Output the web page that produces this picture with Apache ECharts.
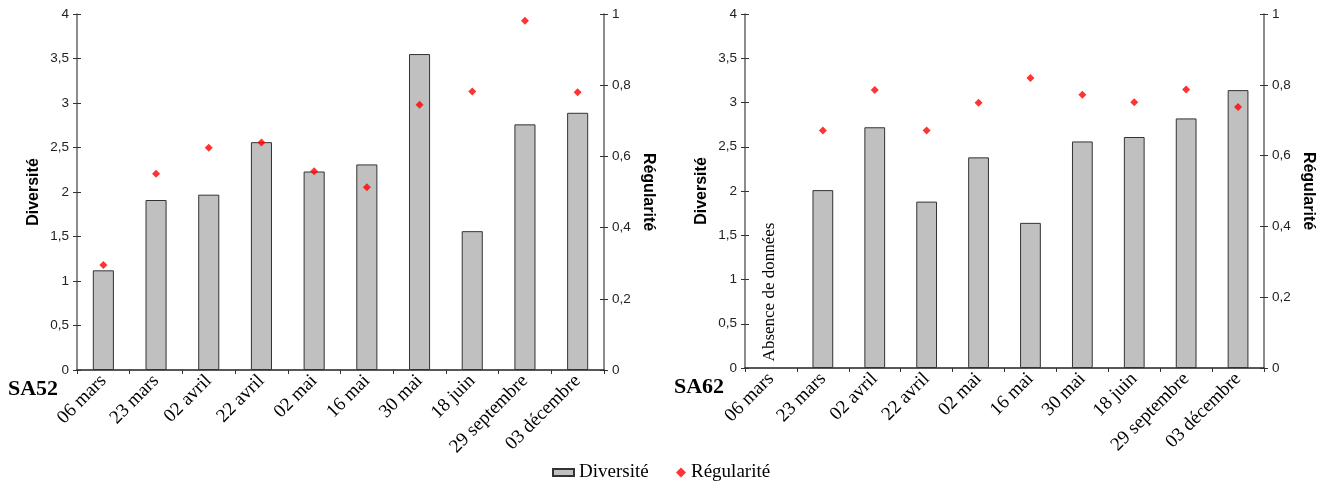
<!DOCTYPE html>
<html><head><meta charset="utf-8">
<script src="https://cdn.jsdelivr.net/npm/echarts@6/dist/echarts.min.js"></script>
<style>html,body{margin:0;padding:0;background:#fff}#c{width:1332px;height:486px}</style>
</head><body><div id="c"></div>
<script>
const categories = ['06 mars','23 mars','02 avril','22 avril','02 mai','16 mai','30 mai','18 juin','29 septembre','03 décembre'];
const diversiteSA52 = [1.12,1.91,1.97,2.56,2.23,2.31,3.55,1.56,2.76,2.89];
const regulariteSA52 = [0.295,0.551,0.624,0.639,0.558,0.513,0.745,0.782,0.981,0.780];
const diversiteSA62 = [null,2.01,2.72,1.88,2.38,1.64,2.56,2.61,2.82,3.14];
const regulariteSA62 = [null,0.671,0.785,0.671,0.749,0.819,0.772,0.751,0.787,0.737];
const diversiteTicks = {min:0,max:4,interval:0.5};
const regulariteTicks = {min:0,max:1,interval:0.2};

const sans = 'Liberation Sans, Arial, sans-serif';
const serif = 'Liberation Serif, Times New Roman, serif';
const fmt = v => String(Math.round(v*10)/10).replace('.', ',');

function yMain(grid, pos, t, name, rot){
  return {type:'value', gridIndex:grid, position:pos, min:t.min, max:t.max, interval:t.interval,
    splitLine:{show:false},
    axisLine:{show:true, lineStyle:{color:'#666', width:1.5}},
    axisTick:{show:true, inside:false, length:4, lineStyle:{color:'#333'}},
    axisLabel:{show:true, margin:8, color:'#222', fontFamily:sans, fontSize:13.5, formatter:fmt},
    name:name, nameLocation:'middle', nameRotate:rot, nameGap:pos==='left'?35:36,
    nameTextStyle:{fontFamily:sans, fontWeight:'bold', fontSize:16, color:'#000'}};
}
function yCross(grid, pos, t){
  return {type:'value', gridIndex:grid, position:pos, min:t.min, max:t.max, interval:t.interval,
    splitLine:{show:false}, axisLine:{show:false}, axisLabel:{show:false},
    axisTick:{show:true, inside:true, length:4, lineStyle:{color:'#333'}}};
}
function xMain(grid){
  return {type:'category', gridIndex:grid, data:categories, boundaryGap:true,
    axisLine:{show:true, lineStyle:{color:'#222', width:1.5}},
    axisTick:{show:true, inside:false, length:4, lineStyle:{color:'#333'}},
    axisLabel:{show:true, rotate:45, margin:8, interval:0, color:'#000', fontFamily:serif, fontSize:19}};
}
function xCross(grid){
  return {type:'category', gridIndex:grid, data:categories, boundaryGap:true,
    axisLine:{show:false}, axisLabel:{show:false},
    axisTick:{show:true, inside:true, length:4, lineStyle:{color:'#333'}}};
}
const barStyle = {color:'#c0c0c0', borderColor:'#333', borderWidth:1};
const ptStyle = {color:'#ff0000'};

const option = {
  animation:false,
  grid:[
    {left:77, right:728, top:14, bottom:116, containLabel:false},
    {left:745, right:68, top:14, bottom:118, containLabel:false}
  ],
  xAxis:[xMain(0), xMain(1), xCross(0), xCross(1)],
  yAxis:[
    yMain(0,'left',diversiteTicks,'Diversité',90),
    yMain(0,'right',regulariteTicks,'Régularité',-90),
    yMain(1,'left',diversiteTicks,'Diversité',90),
    yMain(1,'right',regulariteTicks,'Régularité',-90),
    yCross(0,'left',diversiteTicks), yCross(0,'right',regulariteTicks),
    yCross(1,'left',diversiteTicks), yCross(1,'right',regulariteTicks)
  ],
  legend:[
    {data:[{name:'Diversité', icon:'rect'}], left:547, top:458, itemWidth:21, itemHeight:7, itemGap:5,
      textStyle:{fontFamily:serif, fontSize:19, color:'#000'}},
    {data:[{name:'Régularité', icon:'diamond'}], left:671, top:458, itemWidth:10, itemHeight:10, itemGap:5,
      textStyle:{fontFamily:serif, fontSize:19, color:'#000'}}
  ],
  graphic:[
    {type:'text', left:8, top:378, style:{text:'SA52', font:'bold 22px '+serif, fill:'#000'}},
    {type:'text', left:674, top:376, style:{text:'SA62', font:'bold 22px '+serif, fill:'#000'}},
    {type:'text', x:770, y:292, rotation:Math.PI/2,
      style:{text:'Absence de données', font:'17px '+serif, fill:'#000', textAlign:'center', textVerticalAlign:'middle'}}
  ],
  series:[
    {name:'Diversité', type:'bar', xAxisIndex:0, yAxisIndex:0, data:diversiteSA52, barWidth:'40%', itemStyle:barStyle},
    {name:'Régularité', type:'scatter', xAxisIndex:0, yAxisIndex:1, data:regulariteSA52, symbol:'diamond', symbolSize:8, itemStyle:ptStyle},
    {name:'Diversité', type:'bar', xAxisIndex:1, yAxisIndex:2, data:diversiteSA62, barWidth:'40%', itemStyle:barStyle},
    {name:'Régularité', type:'scatter', xAxisIndex:1, yAxisIndex:3, data:regulariteSA62, symbol:'diamond', symbolSize:8, itemStyle:ptStyle}
  ]
};
const chart = echarts.init(document.getElementById('c'), null, {renderer:'canvas'});
chart.setOption(option);
</script></body></html>
